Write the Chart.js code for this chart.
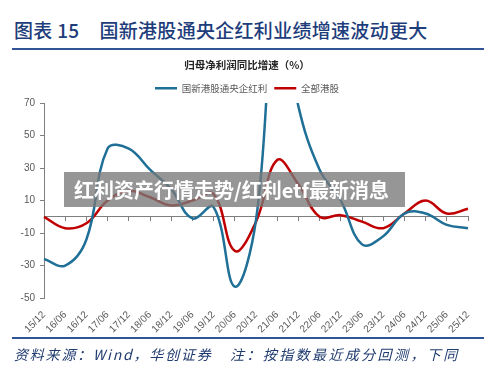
<!DOCTYPE html>
<html>
<head>
<meta charset="utf-8">
<script src="https://cdn.jsdelivr.net/npm/chart.js@4"></script>
<style>
  html, body { margin: 0; padding: 0; background: #fff; }
  body { width: 500px; height: 384px; position: relative; overflow: hidden; font-family: "Noto Sans CJK SC", sans-serif; }
  .title { position: absolute; left: 14px; top: 16px; font-size: 19px; color: #1e3d7b; font-weight: 500; white-space: nowrap; letter-spacing: 0.3px; }
  .title .num { margin-right: 20px; }
  .rule { position: absolute; left: 12px; width: 472px; height: 2px; background: #2f5597; }
  .wrap { position: absolute; left: 0; top: 56px; width: 500px; height: 282px; }
  .note { position: absolute; top: 344px; font-size: 14px; color: #1f3a6e; font-style: italic; white-space: nowrap; letter-spacing: 1.8px; }
  .mark { position: absolute; left: 64px; top: 172px; width: 341px; height: 35px; background: rgba(120,120,120,0.78);
          color: #fff; font-weight: bold; font-size: 20px; line-height: 35px; padding-left: 10px; box-sizing: border-box; white-space: nowrap; }
</style>
</head>
<body>
<div class="title"><span class="num">图表 15</span>国新港股通央企红利业绩增速波动更大</div>
<div class="rule" style="top:48px"></div>
<div class="wrap"><canvas id="chart"></canvas></div>
<div class="rule" style="top:337px"></div>
<div class="note" style="left:14px">资料来源：Wind，华创证券</div>
<div class="note" style="left:230px; letter-spacing:2.4px">注：按指数最近成分回测，下同</div>
<div class="mark">红利资产行情走势/红利etf最新消息</div>
<script>
// 归母净利润同比增速（%），半年度
const periods = ['15/12','16/06','16/12','17/06','17/12','18/06','18/12','19/06','19/12','20/06','20/12',
                 '21/06','21/12','22/06','22/12','23/06','23/12','24/06','24/12','25/06','25/12'];
const centralSoe = [-26, -30, -14, 42, 42, 29, 17, -1, 6, -43, -2, 140, 68, 29, 10, -17, -12, 2, 2, -5, -7];
const allHk = [0, -7, -4, 10, 16, 12, 7, 10, 14, -21, -3, 35, 20, 0, 1, -3, -7, 2, 10, 2, 5];
const yTicks = [-50, -30, -10, 10, 30, 50, 70];

const gray = '#595959';
const axisFont = { family: 'Liberation Sans, Arial, sans-serif', size: 10 };

const ctx = document.getElementById('chart').getContext('2d');
new Chart(ctx, {
    type: 'line',
    data: {
        labels: periods,
        datasets: [
            { label: '国新港股通央企红利', data: centralSoe, borderColor: '#1f6f97', backgroundColor: '#1f6f97', borderWidth: 2.5, pointRadius: 0, tension: 0.4, fill: false },
            { label: '全部港股', data: allHk, borderColor: '#c00000', backgroundColor: '#c00000', borderWidth: 2.5, pointRadius: 0, tension: 0.4, fill: false }
        ]
    },
    options: {
        responsive: true, maintainAspectRatio: false, animation: false,
        layout: { padding: { left: 0, right: 6, top: 0, bottom: 0 } },
        plugins: {
            title: { display: true, text: '归母净利润同比增速（%）', color: '#262626',
                     font: { family: 'Noto Sans CJK SC', size: 10.5, weight: 'bold' }, padding: { top: 3, bottom: 5 } },
            legend: { position: 'top', labels: { usePointStyle: true, pointStyle: 'line', pointStyleWidth: 22, boxHeight: 8,
                      color: gray, font: { family: 'Noto Sans CJK SC', size: 9.5 }, padding: 7 } },
            tooltip: { enabled: false }
        },
        scales: {
            y: {
                min: -50, max: 70,
                afterBuildTicks: s => { s.ticks = yTicks.map(v => ({ value: v })); },
                afterFit: s => { s.width = 44; },
                ticks: { color: gray, font: axisFont, padding: 5 },
                grid: { drawOnChartArea: false, drawTicks: true, tickLength: 4, color: '#7f7f7f' },
                border: { display: true, color: '#7f7f7f' }
            },
            // empty right gutter so the plot ends at the last period while title/legend stay centred
            yR: {
                position: 'right', min: -50, max: 70,
                afterFit: s => { s.width = 26; },
                ticks: { display: false },
                grid: { display: false },
                border: { display: false }
            },
            x: {
                position: 'bottom',
                afterFit: s => { s.height = 40; },
                ticks: { color: gray, font: axisFont, minRotation: 45, maxRotation: 45, autoSkip: false, padding: 3 },
                grid: { display: false },
                border: { display: false }
            },
            x0: {
                type: 'category', position: { y: 0 },
                ticks: { display: false },
                grid: { drawOnChartArea: false, drawTicks: true, tickLength: 4, color: '#7f7f7f' },
                border: { display: true, color: '#7f7f7f' }
            }
        }
    }
});
</script>
</body>
</html>
